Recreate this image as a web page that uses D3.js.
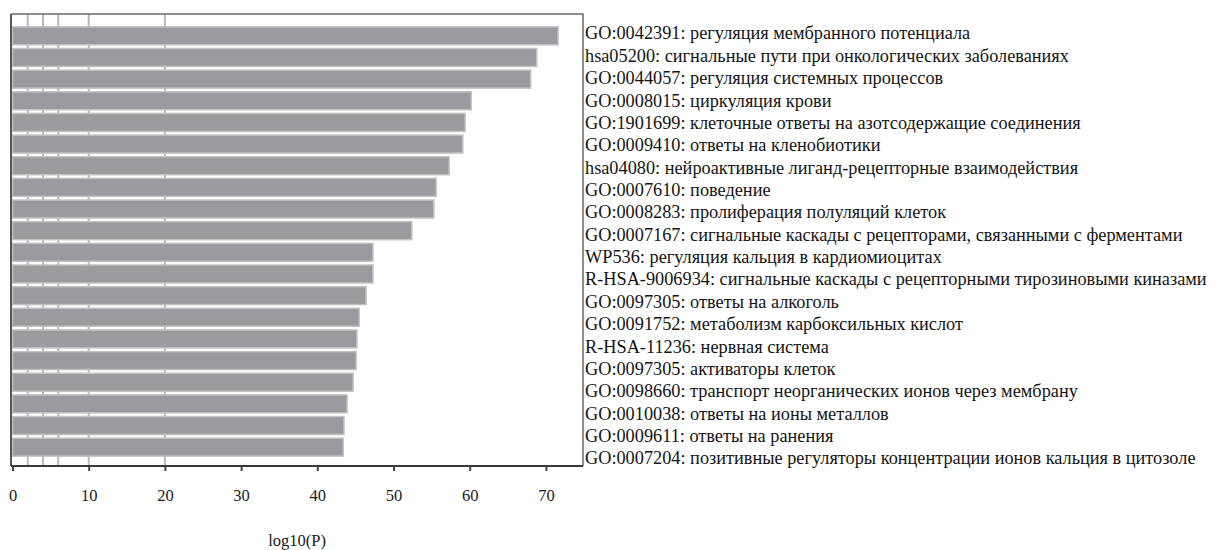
<!DOCTYPE html>
<html>
<head>
<meta charset="utf-8">
<script src="https://cdn.jsdelivr.net/npm/d3@7"></script>
<style>
  html, body { margin: 0; padding: 0; background: #fff; }
  svg { display: block; }
</style>
</head>
<body>
<svg id="chart" width="1216" height="550"></svg>
<script>
// Enriched terms, top to bottom
const terms = [
  "GO:0042391: регуляция мембранного потенциала",
  "hsa05200: сигнальные пути при онкологических заболеваниях",
  "GO:0044057: регуляция системных процессов",
  "GO:0008015: циркуляция крови",
  "GO:1901699: клеточные ответы на азотсодержащие соединения",
  "GO:0009410: ответы на кленобиотики",
  "hsa04080: нейроактивные лиганд-рецепторные взаимодействия",
  "GO:0007610: поведение",
  "GO:0008283: пролиферация полуляций клеток",
  "GO:0007167: сигнальные каскады с рецепторами, связанными с ферментами",
  "WP536: регуляция кальция в кардиомиоцитах",
  "R-HSA-9006934: сигнальные каскады с рецепторными тирозиновыми киназами",
  "GO:0097305: ответы на алкоголь",
  "GO:0091752: метаболизм карбоксильных кислот",
  "R-HSA-11236: нервная система",
  "GO:0097305: активаторы клеток",
  "GO:0098660: транспорт неорганических ионов через мембрану",
  "GO:0010038: ответы на ионы металлов",
  "GO:0009611: ответы на ранения",
  "GO:0007204: позитивные регуляторы концентрации ионов кальция в цитозоле"
];

// -log10(P) per term
const logP = [71.6, 68.8, 68.0, 60.2, 59.4, 59.1, 57.3, 55.6, 55.3, 52.4,
              47.3, 47.3, 46.4, 45.5, 45.2, 45.1, 44.7, 43.9, 43.5, 43.4];

const xTicks = [0, 10, 20, 30, 40, 50, 60, 70];
const gridValues = [2, 4, 6, 10, 20];
const axisTitle = "log10(P)";

const SERIF = "Liberation Serif";

const svg = d3.select("#chart");

const frame = { left: 11, right: 583, top: 14, bottom: 466 };

const x = d3.scaleLinear().domain([0, 75]).range([12.5, 584]);

const yBar = d3.scaleBand()
  .domain(d3.range(terms.length))
  .range([25, 458])
  .paddingInner(0.17)
  .paddingOuter(0.085);

const yLabel = d3.scaleBand()
  .domain(d3.range(terms.length))
  .range([21.8, 469.2]);

// vertical guide lines behind the bars
svg.append("g")
  .selectAll("line")
  .data(gridValues)
  .join("line")
  .attr("x1", d => x(d)).attr("x2", d => x(d))
  .attr("y1", frame.top).attr("y2", frame.bottom)
  .attr("stroke", "#b9b9bb")
  .attr("stroke-width", 2);

// bars
svg.append("g")
  .selectAll("rect")
  .data(logP)
  .join("rect")
  .attr("x", x(0))
  .attr("y", (d, i) => yBar(i))
  .attr("width", d => x(d) - x(0))
  .attr("height", yBar.bandwidth())
  .attr("fill", "#9b9b9f")
  .attr("stroke", "#c2c2c4")
  .attr("stroke-width", 1.5);

// frame: top and right
svg.append("path")
  .attr("d", `M${frame.left},${frame.top}H${frame.right}V${frame.bottom}`)
  .attr("fill", "none")
  .attr("stroke", "#6a6a6a")
  .attr("stroke-width", 1.5);

// left edge
svg.append("line")
  .attr("x1", frame.left).attr("x2", frame.left)
  .attr("y1", frame.top).attr("y2", frame.bottom)
  .attr("stroke", "#555")
  .attr("stroke-width", 2);

// bottom axis
const xAxis = d3.axisBottom(x)
  .tickValues(xTicks)
  .tickSize(5)
  .tickPadding(18)
  .tickFormat(d3.format("d"));

const gAxis = svg.append("g")
  .attr("transform", `translate(0,${frame.bottom})`)
  .call(xAxis)
  .attr("font-family", SERIF)
  .attr("font-size", 16.5);
gAxis.select(".domain").remove();
gAxis.selectAll(".tick line").attr("stroke", "#444").attr("stroke-width", 2);
gAxis.selectAll(".tick text").attr("fill", "#1a1a1a");

svg.append("line")
  .attr("x1", frame.left).attr("x2", frame.right)
  .attr("y1", frame.bottom).attr("y2", frame.bottom)
  .attr("stroke", "#3a3a3a")
  .attr("stroke-width", 2);

// axis title
svg.append("text")
  .attr("x", (frame.left + frame.right) / 2)
  .attr("y", 546)
  .attr("text-anchor", "middle")
  .attr("font-family", SERIF)
  .attr("font-size", 16.5)
  .attr("fill", "#1a1a1a")
  .text(axisTitle);

// term labels
svg.append("g")
  .selectAll("text")
  .data(terms)
  .join("text")
  .attr("x", 585)
  .attr("y", (d, i) => yLabel(i) + yLabel.bandwidth() / 2)
  .attr("dy", "0.35em")
  .style("font-family", SERIF)
  .style("font-size", "18.3px")
  .style("fill", "#141414")
  .text(d => d);
</script>
</body>
</html>
